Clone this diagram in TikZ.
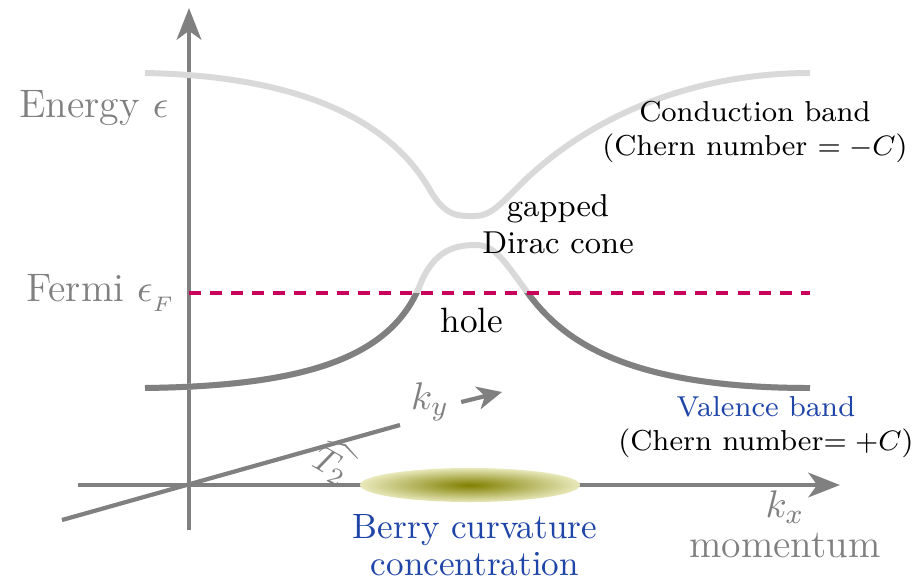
\documentclass[tikz,border=0pt]{standalone}
\usepackage{amsmath,amssymb}
\usepackage{tikz}
\usetikzlibrary{positioning,arrows.meta}
\definecolor{bdgray}{HTML}{808080}
\definecolor{bdlight}{HTML}{D9D9D9}
\definecolor{bdfermi}{HTML}{C8005A}
\definecolor{bdblue}{HTML}{1F45A8}
\tikzset{
  axis/.style   ={line width=1.2pt, draw=bdgray, -{Stealth[length=9pt,width=7pt,inset=2.5pt]}},
  kyline/.style ={line width=1.2pt, draw=bdgray},
  kyarrow/.style={line width=1.2pt, draw=bdgray, -{Stealth[length=7pt,width=6.5pt,inset=2pt]}},
  band/.style   ={line width=1.7pt},
  fermi/.style  ={line width=0.9pt, draw=bdfermi, dash pattern=on 3.4pt off 2.6pt},
  glabel/.style ={text=bdgray, font=\fontsize{11.3}{13}\selectfont},
  clabel/.style ={font=\fontsize{8.2}{9.6}\selectfont, align=center},
}
\newcommand{\valencepath}{(145,388) .. controls (300,386) and (390,360) .. (420,285)
  .. controls (434,250) and (455,245) .. (476,245)
  .. controls (495,245) and (505,262) .. (527,292)
  .. controls (560,337) and (620,388) .. (810,388)}

\begin{document}
\begin{tikzpicture}[x=0.01cm,y=-0.01cm]
  \useasboundingbox (0,0) rectangle (917,578);
  \coordinate (ybot)   at (189,530);
  \coordinate (ytop)   at (189,8);
  \coordinate (xleft)  at (78,485);
  \coordinate (xright) at (840,485);
  \coordinate (kyA)    at (62,520);
  \coordinate (kyB)    at (400,425);
  \coordinate (kytip)  at (502,392);
  \coordinate (fermiL) at (189,293);
  \coordinate (fermiR) at (810,293);
  % axes
  \draw[axis] (ybot) -- (ytop);
  \draw[axis] (xleft) -- (xright);
  \draw[kyline] (kyA) -- (kyB);
  % bands
  \draw[band, bdlight] (145,73) .. controls (300,76) and (390,120) .. (430,190)
    .. controls (446,218) and (460,216) .. (475,216)
    .. controls (490,216) and (500,205) .. (520,185)
    .. controls (580,125) and (680,73) .. (810,73);
  \draw[band, bdlight] \valencepath;
  \begin{scope}
    \clip (0,293) rectangle (917,578);
    \draw[band, bdgray] \valencepath;
  \end{scope}
  \draw[fermi] (fermiL) -- (fermiR);
  % Berry curvature spot
  \shade[inner color=olive, outer color=olive!18] (470,485) ellipse [x radius=1.1cm, y radius=0.17cm];
  % labels
  \node[glabel, anchor=west] (energy) at (7,108) {Energy $\epsilon$};
  \node[glabel, anchor=west] (fermi) at (14,293) {Fermi $\epsilon_{_F}$};
  \node[clabel] (cond) at (755,132) {Conduction band\\(Chern number $= -C$)};
  \node[clabel] (val) at (766,427) {\textcolor{bdblue}{Valence band}\\(Chern number$= +C$)};
  \node[align=center, font=\fontsize{9}{10.5}\selectfont] (dirac) at (558,224) {gapped\\Dirac cone};
  \node (hole) at (472,320) {hole};
  \node[glabel] (kx) at (785,507) {$k_x$};
  \node[glabel] (mom) at (785,545) {momentum};
  \node[glabel] (ky) at (430,402) {$k_y$};
  \node[text=bdgray, rotate=-30] (T2) at (336,463) {$\widehat{T_2\,}$};
  \node[align=center, text=bdblue] (berry) at (475,545) {Berry curvature\\[-1.5pt]concentration};
  \draw[kyarrow] (ky.east) -- (kytip);
\end{tikzpicture}
\end{document}
